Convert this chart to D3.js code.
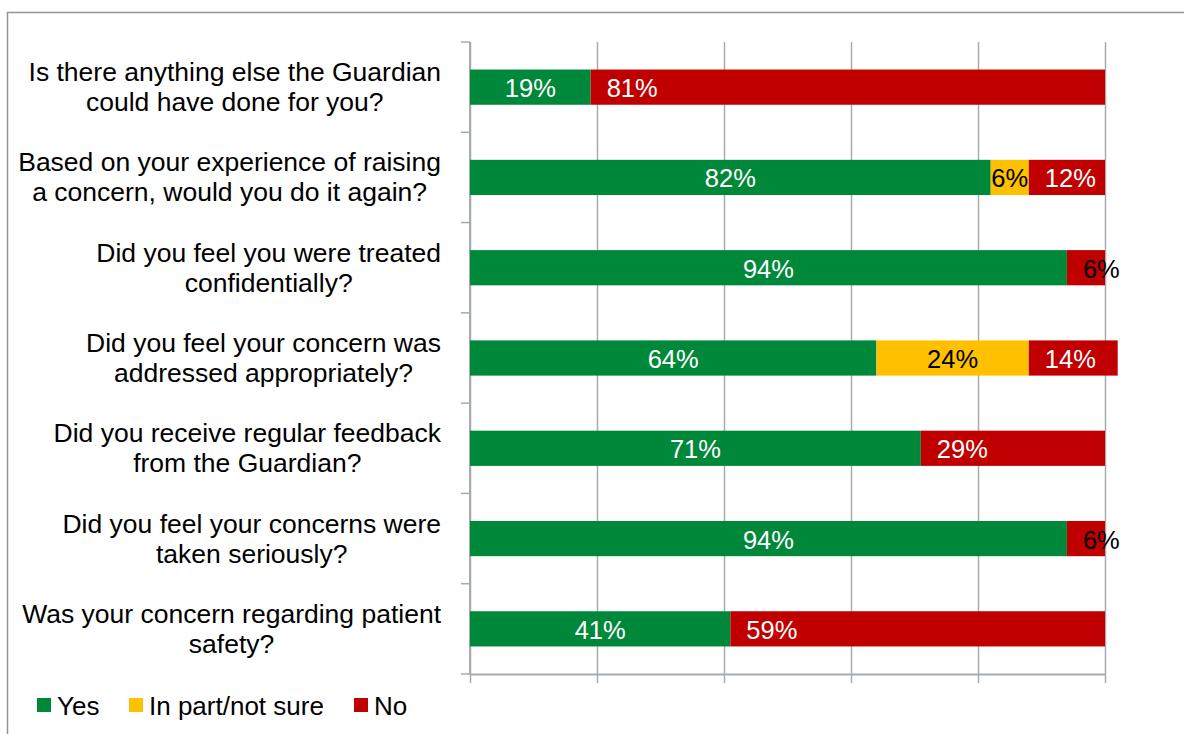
<!DOCTYPE html>
<html lang="en">
<head>
    <meta charset="UTF-8">
    <title>Guardian survey</title>
    <script src="https://cdnjs.cloudflare.com/ajax/libs/d3/7.8.5/d3.min.js" charset="utf-8"></script>
    <style>
        body { margin: 0; background: #fff; }
        svg { display: block; font-family: "Liberation Sans", Arial, sans-serif; }
    </style>
</head>
<body>
<svg id="chart" width="1184" height="734"></svg>

<script type="application/javascript">
    // questions, top to bottom (each entry = wrapped lines)
    var questions = [
        ['Is there anything else the Guardian', 'could have done for you?'],
        ['Based on your experience of raising', 'a concern, would you do it again?'],
        ['Did you feel you were treated', 'confidentially?'],
        ['Did you feel your concern was', 'addressed appropriately?'],
        ['Did you receive regular feedback', 'from the Guardian?'],
        ['Did you feel your concerns were', 'taken seriously?'],
        ['Was your concern regarding patient', 'safety?']
    ];

    var yes  = [19, 82, 94, 64, 71, 94, 41];
    var part = [0, 6, 0, 24, 0, 0, 0];
    var no   = [81, 12, 6, 14, 29, 6, 59];

    var seriesNames = ['Yes', 'In part/not sure', 'No'];
    var xTicks = [0, 20, 40, 60, 80, 100];

    var colors = {yes: '#00883a', part: '#ffc000', no: '#c00000'};
    var gridColor = '#a6abaf';

    var plot = {left: 470, right: 1105, top: 42, bottom: 674};

    var svg = d3.select('#chart');

    // outer frame (top and left edges visible)
    svg.append('path')
            .attr('d', 'M7.5,734 V12.5 H1184')
            .attr('fill', 'none')
            .attr('stroke', '#8f9698')
            .attr('stroke-width', 1.5);

    var rows = questions.map(function (q, i) {
        return {id: i, yes: yes[i], part: part[i], no: no[i]};
    });

    var x = d3.scaleLinear().domain([0, 100]).range([plot.left, plot.right]);
    var y = d3.scaleBand()
            .domain(rows.map(function (d) { return d.id; }))
            .range([plot.top, plot.bottom])
            .paddingInner(0.61)
            .paddingOuter(0.305);

    // vertical gridlines
    svg.append('g')
            .attr('transform', 'translate(0,' + plot.bottom + ')')
            .call(d3.axisBottom(x).tickValues(xTicks).tickSize(-(plot.bottom - plot.top)).tickFormat(''))
            .call(function (g) {
                g.select('.domain').remove();
                g.selectAll('line').attr('stroke', gridColor).attr('stroke-width', 1.5);
            });

    // bottom axis with ticks pointing down
    svg.append('g')
            .attr('transform', 'translate(0,' + plot.bottom + ')')
            .call(d3.axisBottom(x).tickValues(xTicks).tickSize(9).tickSizeOuter(0).tickFormat(''))
            .call(function (g) {
                g.select('.domain').attr('stroke', gridColor).attr('stroke-width', 2);
                g.selectAll('line').attr('stroke', gridColor).attr('stroke-width', 1.5);
            });

    // category axis: line plus ticks at band boundaries
    var boundaries = d3.range(rows.length + 1).map(function (i) {
        return plot.top + i * y.step();
    });
    svg.append('line')
            .attr('x1', plot.left).attr('x2', plot.left)
            .attr('y1', plot.top).attr('y2', plot.bottom)
            .attr('stroke', gridColor).attr('stroke-width', 2);
    svg.append('g').selectAll('line')
            .data(boundaries)
            .enter()
            .append('line')
            .attr('x1', plot.left - 9).attr('x2', plot.left)
            .attr('y1', function (d) { return d; })
            .attr('y2', function (d) { return d; })
            .attr('stroke', gridColor).attr('stroke-width', 1.5);

    // stacked bars
    var keys = ['yes', 'part', 'no'];
    var stacked = d3.stack().keys(keys)(rows);

    var layers = svg.append('g').selectAll('g')
            .data(stacked)
            .enter()
            .append('g')
            .attr('fill', function (d) { return colors[d.key]; });

    layers.selectAll('rect')
            .data(function (d) { return d.filter(function (s) { return s[1] > s[0]; }); })
            .enter()
            .append('rect')
            .attr('x', function (d) { return x(d[0]); })
            .attr('y', function (d) { return y(d.data.id); })
            .attr('width', function (d) { return x(d[1]) - x(d[0]); })
            .attr('height', y.bandwidth());

    // value labels
    var labelSize = 25.5;
    stacked.forEach(function (layer) {
        var key = layer.key;
        svg.append('g').selectAll('text')
                .data(layer.filter(function (s) { return s[1] > s[0]; }))
                .enter()
                .append('text')
                .attr('font-size', labelSize + 'px')
                .attr('y', function (d) { return y(d.data.id) + y.bandwidth() / 2 + 1; })
                .attr('dominant-baseline', 'central')
                .text(function (d) { return d.data[key] + '%'; })
                .each(function (d) {
                    var t = d3.select(this);
                    var segW = x(d[1]) - x(d[0]);
                    if (key === 'no') {
                        var w = this.getComputedTextLength();
                        t.attr('x', x(d[0]) + 16).attr('text-anchor', 'start')
                                .attr('fill', (w + 18 < segW) ? '#fff' : '#000');
                    } else {
                        t.attr('x', x(d[0]) + segW / 2).attr('text-anchor', 'middle')
                                .attr('fill', key === 'part' ? '#000' : '#fff');
                    }
                });
    });

    // question labels: block right-aligned, lines centred
    var qSize = 26.5;
    var lineGap = 30;
    var labelRight = 441;
    var qGroup = svg.append('g').attr('font-size', qSize + 'px').attr('fill', '#000');
    questions.forEach(function (lines, i) {
        var cy = y(i) + y.bandwidth() / 2;
        var g = qGroup.append('g');
        var texts = g.selectAll('text')
                .data(lines)
                .enter()
                .append('text')
                .attr('text-anchor', 'middle')
                .attr('y', function (d, j) { return cy + (j - (lines.length - 1) / 2) * lineGap; })
                .attr('dominant-baseline', 'central')
                .text(function (d) { return d; });
        var maxW = d3.max(texts.nodes(), function (n) { return n.getComputedTextLength(); });
        texts.attr('x', labelRight - maxW / 2);
    });

    // legend
    var legendX = [37, 129, 354];
    var legendKeys = ['yes', 'part', 'no'];
    var legend = svg.append('g').attr('transform', 'translate(0,705)');
    var items = legend.selectAll('g')
            .data(seriesNames)
            .enter()
            .append('g')
            .attr('transform', function (d, i) { return 'translate(' + legendX[i] + ',0)'; });
    items.append('rect')
            .attr('x', 0).attr('y', -7)
            .attr('width', 14).attr('height', 14)
            .attr('fill', function (d, i) { return colors[legendKeys[i]]; });
    items.append('text')
            .attr('x', 20).attr('y', 1)
            .attr('dominant-baseline', 'central')
            .attr('font-size', '26px')
            .attr('fill', '#000')
            .text(function (d) { return d; });
</script>
</body>
</html>
